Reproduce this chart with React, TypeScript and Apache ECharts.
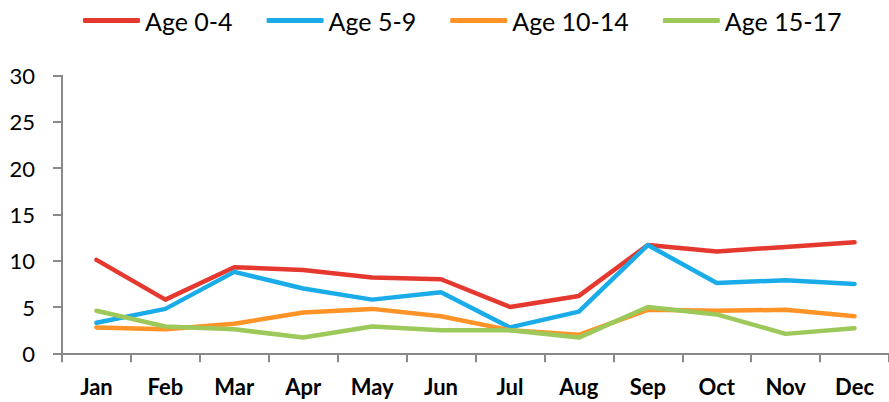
import React, { useEffect, useRef } from "react";
import * as echarts from "echarts";

const months = ["Jan", "Feb", "Mar", "Apr", "May", "Jun", "Jul", "Aug", "Sep", "Oct", "Nov", "Dec"];
const age0to4 = [10.1, 5.8, 9.3, 9.0, 8.2, 8.0, 5.0, 6.2, 11.7, 11.0, 11.5, 12.0];
const age5to9 = [3.3, 4.8, 8.8, 7.0, 5.8, 6.6, 2.8, 4.5, 11.7, 7.6, 7.9, 7.5];
const age10to14 = [2.8, 2.6, 3.2, 4.4, 4.8, 4.0, 2.5, 2.0, 4.7, 4.6, 4.7, 4.0];
const age15to17 = [4.6, 2.9, 2.6, 1.7, 2.9, 2.5, 2.5, 1.7, 5.0, 4.2, 2.1, 2.7];
const seriesNames = ["Age 0-4", "Age 5-9", "Age 10-14", "Age 15-17"];
const colors = ["#E5382F", "#1AACE8", "#FF9327", "#9DC85A"];

const FONT = "Lato, 'Liberation Sans', sans-serif";

export default function App() {
  const ref = useRef<HTMLDivElement>(null);
  useEffect(() => {
    if (!ref.current) return;
    const chart = echarts.init(ref.current, undefined, { renderer: "svg" });
    const data = [age0to4, age5to9, age10to14, age15to17];
    chart.setOption({
      animation: false,
      color: colors,
      legend: {
        top: 8,
        left: 83,
        width: 806,
        padding: 0,
        icon: "roundRect",
        itemWidth: 57,
        itemHeight: 5,
        itemGap: 34,
        textStyle: { fontFamily: FONT, fontSize: 25, color: "#000" },
        data: seriesNames,
      },
      grid: { left: 62, right: -3.4, top: 75.7, bottom: 48.7, containLabel: false },
      xAxis: {
        type: "category",
        data: months,
        boundaryGap: true,
        axisLine: { lineStyle: { color: "#898989", width: 2 } },
        axisTick: { show: true, length: 9, lineStyle: { color: "#898989", width: 2 } },
        axisLabel: { fontFamily: FONT, fontSize: 22, fontWeight: "bold", color: "#000", margin: 22 },
        splitLine: { show: false },
      },
      yAxis: {
        type: "value",
        min: 0,
        max: 30,
        interval: 5,
        axisLine: { show: true, lineStyle: { color: "#898989", width: 2 } },
        axisTick: { show: true, length: 9, lineStyle: { color: "#898989", width: 2 } },
        axisLabel: { fontFamily: FONT, fontSize: 22, color: "#000", margin: 27 },
        splitLine: { show: false },
      },
      series: data.map((d, i) => ({
        name: seriesNames[i],
        type: "line",
        data: d,
        showSymbol: false,
        symbol: "none",
        lineStyle: { width: 4.5, color: colors[i], cap: "round", join: "round" },
        itemStyle: { color: colors[i] },
      })),
    });
    return () => chart.dispose();
  }, []);
  return (
    <div
      ref={ref}
      style={{ position: "fixed", left: 0, top: 0, width: 889, height: 402, background: "#fff" }}
    />
  );
}
